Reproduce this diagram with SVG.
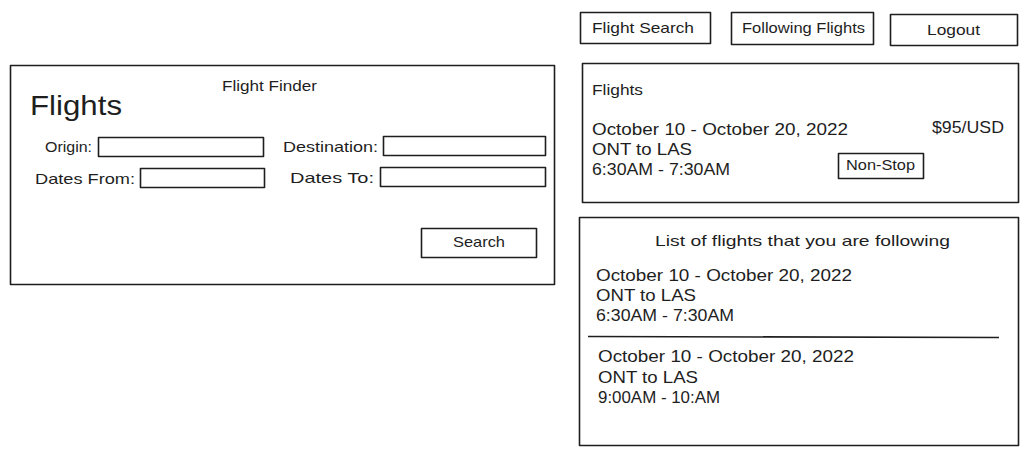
<svg xmlns="http://www.w3.org/2000/svg" width="1031" height="459" viewBox="0 0 1031 459">
<style>
.box{fill:#ffffff;stroke:#1e1e1e;stroke-width:1.6;stroke-linejoin:round}
.t{font-family:"Liberation Sans","Noto Sans",sans-serif;font-size:17px;fill:#1e1e1e}
.s{font-size:15px}
.big{font-size:28px}
.line{stroke:#1e1e1e;stroke-width:1.6;fill:none}
</style>
<rect width="1031" height="459" fill="#ffffff"/>

<g id="flight-finder-panel">
<rect class="box" x="10.5" y="65.5" width="544" height="219"/>
<text class="t s" x="222" y="91" textLength="95" lengthAdjust="spacingAndGlyphs">Flight Finder</text>
<text class="t big" x="30" y="115" textLength="92" lengthAdjust="spacingAndGlyphs">Flights</text>
</g>

<g id="origin-field">
<text class="t s" x="45" y="152" textLength="47" lengthAdjust="spacingAndGlyphs">Origin:</text>
<rect class="box" x="98.5" y="137.5" width="165" height="19"/>
</g>
<g id="destination-field">
<text class="t s" x="283" y="152" textLength="95" lengthAdjust="spacingAndGlyphs">Destination:</text>
<rect class="box" x="383.5" y="136.5" width="162" height="19"/>
</g>
<g id="dates-from-field">
<text class="t s" x="35" y="184" textLength="100" lengthAdjust="spacingAndGlyphs">Dates From:</text>
<rect class="box" x="140.5" y="168.5" width="124" height="19"/>
</g>
<g id="dates-to-field">
<text class="t s" x="290" y="183" textLength="84" lengthAdjust="spacingAndGlyphs">Dates To:</text>
<rect class="box" x="380.5" y="167.5" width="165" height="19"/>
</g>
<g id="search-button">
<rect class="box" x="421.5" y="228.5" width="115" height="29"/>
<text class="t s" x="453" y="247" textLength="52" lengthAdjust="spacingAndGlyphs">Search</text>
</g>

<g id="nav-flight-search">
<rect class="box" x="580.5" y="12.5" width="130" height="31"/>
<text class="t s" x="592" y="33" textLength="102" lengthAdjust="spacingAndGlyphs">Flight Search</text>
</g>
<g id="nav-following-flights">
<rect class="box" x="731.5" y="12.5" width="142" height="32"/>
<text class="t s" x="742" y="33" textLength="123" lengthAdjust="spacingAndGlyphs">Following Flights</text>
</g>
<g id="nav-logout">
<rect class="box" x="890.5" y="14.5" width="127" height="31"/>
<text class="t s" x="927" y="35" textLength="53" lengthAdjust="spacingAndGlyphs">Logout</text>
</g>

<g id="flights-panel">
<rect class="box" x="582.5" y="63.5" width="436" height="139"/>
<text class="t s" x="592" y="95" textLength="51" lengthAdjust="spacingAndGlyphs">Flights</text>
<text class="t" x="592" y="135" textLength="256" lengthAdjust="spacingAndGlyphs">October 10 - October 20, 2022</text>
<text class="t" x="592" y="155" textLength="100" lengthAdjust="spacingAndGlyphs">ONT to LAS</text>
<text class="t" x="592" y="175" textLength="138" lengthAdjust="spacingAndGlyphs">6:30AM - 7:30AM</text>
<text class="t" x="932" y="133" textLength="72" lengthAdjust="spacingAndGlyphs">$95/USD</text>
</g>
<g id="non-stop-tag">
<rect class="box" x="838.5" y="153.5" width="85" height="25"/>
<text class="t s" x="846" y="170" textLength="69" lengthAdjust="spacingAndGlyphs">Non-Stop</text>
</g>

<g id="following-panel">
<rect class="box" x="579.5" y="217.5" width="439" height="228"/>
<text class="t s" x="655" y="246" textLength="295" lengthAdjust="spacingAndGlyphs">List of flights that you are following</text>
<text class="t" x="596" y="281" textLength="256" lengthAdjust="spacingAndGlyphs">October 10 - October 20, 2022</text>
<text class="t" x="596" y="301" textLength="100" lengthAdjust="spacingAndGlyphs">ONT to LAS</text>
<text class="t" x="596" y="321" textLength="138" lengthAdjust="spacingAndGlyphs">6:30AM - 7:30AM</text>
<text class="t" x="598" y="362" textLength="256" lengthAdjust="spacingAndGlyphs">October 10 - October 20, 2022</text>
<text class="t" x="598" y="383" textLength="100" lengthAdjust="spacingAndGlyphs">ONT to LAS</text>
<text class="t" x="598" y="403" textLength="122" lengthAdjust="spacingAndGlyphs">9:00AM - 10:AM</text>
</g>

<g id="connectors">
<path class="line" d="M588 336.5 L999 337.5"/>
</g>
</svg>
